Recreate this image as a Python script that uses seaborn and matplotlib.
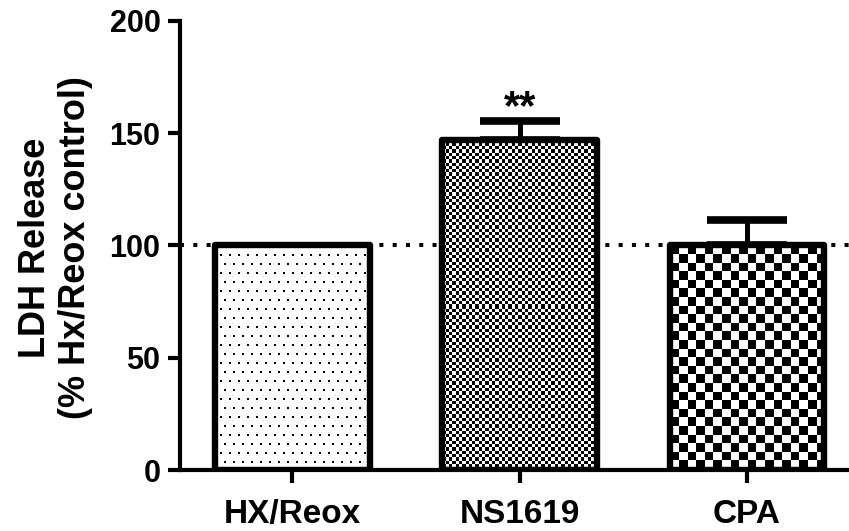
import numpy as np
import matplotlib
matplotlib.use('Agg')
import matplotlib.pyplot as plt
import seaborn as sns

# LDH release values
groups = ['HX/Reox', 'NS1619', 'CPA']
ldh_release = [100, 147, 100]
ldh_sem = [0, 8.5, 11.5]
fill_kind = ['dots', 'fine', 'coarse']
signif = ['', '**', '']

sns.set_style('ticks')
plt.rcParams['font.family'] = ['Liberation Sans', 'DejaVu Sans']
plt.rcParams['font.weight'] = 'bold'
plt.rcParams['text.color'] = 'black'
plt.rcParams['axes.labelcolor'] = 'black'
plt.rcParams['xtick.color'] = 'black'
plt.rcParams['ytick.color'] = 'black'

fig = plt.figure(figsize=(8.49, 5.31), dpi=100)
ax = fig.add_axes([180 / 849, 61 / 531, 669 / 849, 449.3 / 531])

sns.barplot(x=groups, y=ldh_release, color='white', saturation=1, edgecolor='black',
            linewidth=4.6, width=0.68, errorbar=None, ax=ax, zorder=3)
ax.set_xlim(-0.495, 2.449)
ax.set_ylim(0, 200)


def make_texture(kind, h, w):
    yy, xx = np.mgrid[0:h, 0:w]
    if kind == 'dots':
        shift = ((yy // 9) % 2) * 4
        tex = np.ones((h, w))
        tex[((yy % 9) < 2) & (((xx + shift) % 9) < 2)] = 0
        return tex
    cell = 3.3 if kind == 'fine' else 8.6
    return ((np.floor(xx / cell) + np.floor(yy / cell)) % 2).astype(float)


# pattern fills inside each bar
for patch, kind in zip(ax.patches, fill_kind):
    bb = patch.get_bbox()
    p0 = ax.transData.transform((bb.x0, bb.y0))
    p1 = ax.transData.transform((bb.x1, bb.y1))
    w = int(round(p1[0] - p0[0]))
    h = int(round(p1[1] - p0[1]))
    ax.imshow(make_texture(kind, h, w), cmap='gray', vmin=0, vmax=1,
              extent=(bb.x0, bb.x1, bb.y0, bb.y1), interpolation='nearest',
              aspect='auto', zorder=2.5)
    patch.set_facecolor('none')
    patch.set_joinstyle('round')

# upper error bars only
for i, (v, e) in enumerate(zip(ldh_release, ldh_sem)):
    if e > 0:
        eb = ax.errorbar(i, v, yerr=[[0], [e]], fmt='none', ecolor='black',
                         elinewidth=3.6, capsize=29, capthick=5.5, zorder=2)
        for cap in eb[1]:
            cap.set_solid_capstyle('round')
    if signif[i]:
        ax.text(i, v + e + 0.5, signif[i], ha='center', va='baseline',
                fontsize=30, fontweight='bold', color='black')

ax.axhline(100, color='black', lw=2.9, linestyle=(0, (1, 2.3)),
           dash_capstyle='butt', zorder=1)

ax.set_xlim(-0.495, 2.449)
ax.set_ylim(0, 200)
ax.set_yticks([0, 50, 100, 150, 200])
sns.despine(ax=ax)
for s in ['left', 'bottom']:
    ax.spines[s].set_linewidth(3)
    ax.spines[s].set_color('black')
ax.tick_params(axis='both', width=3, length=9, color='black', labelcolor='black')
ax.tick_params(axis='y', labelsize=22, pad=5)
ax.tick_params(axis='x', labelsize=24, pad=12)
for lab in ax.get_xticklabels() + ax.get_yticklabels():
    lab.set_fontweight('bold')

ax.set_xlabel('')
ax.set_ylabel('LDH Release\n(% Hx/Reox control)', fontsize=26, fontweight='bold',
              color='black')
ax.yaxis.set_label_coords(-0.13, 0.494)

fig.savefig('out.png', dpi=100)
